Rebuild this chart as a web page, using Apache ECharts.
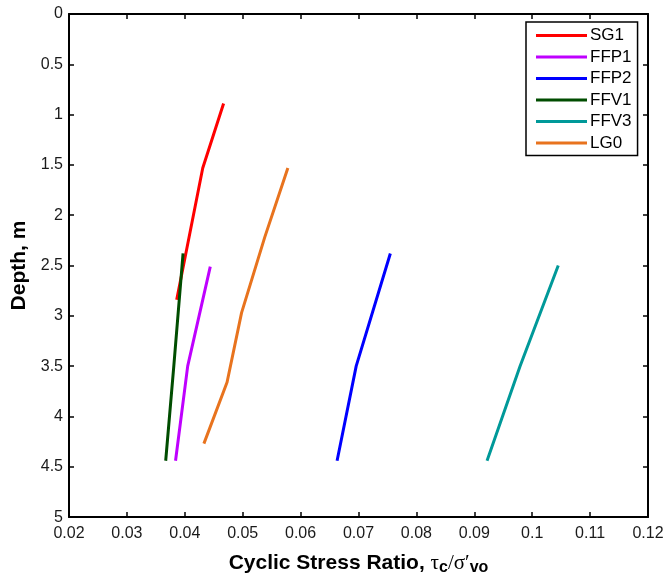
<!DOCTYPE html>
<html>
<head>
<meta charset="utf-8">
<script src="https://cdn.jsdelivr.net/npm/echarts@6/dist/echarts.min.js"></script>
<style>
  html, body { margin: 0; padding: 0; background: #fff; }
  #main { width: 668px; height: 581px; }
</style>
</head>
<body>
<div id="main"></div>
<script>
// series names and colours
var names = ['SG1', 'FFP1', 'FFP2', 'FFV1', 'FFV3', 'LG0'];
var colors = ['#ff0000', '#bf00ff', '#0000ff', '#004d00', '#009999', '#e8731e'];

// [cyclic stress ratio, depth]
var sg1 = [[0.0467, 0.89], [0.0431, 1.53], [0.0386, 2.84]];
var ffp1 = [[0.0444, 2.51], [0.0405, 3.50], [0.0384, 4.44]];
var ffp2 = [[0.0755, 2.38], [0.0696, 3.50], [0.0663, 4.44]];
var ffv1 = [[0.0397, 2.38], [0.0381, 3.50], [0.0367, 4.44]];
var ffv3 = [[0.1045, 2.50], [0.0979, 3.50], [0.0922, 4.44]];
var lg0 = [[0.0578, 1.53], [0.0538, 2.22], [0.0498, 2.97], [0.0473, 3.66], [0.0433, 4.27]];

var xTicks = [0.02, 0.03, 0.04, 0.05, 0.06, 0.07, 0.08, 0.09, 0.1, 0.11, 0.12];
var yTicks = [0, 0.5, 1, 1.5, 2, 2.5, 3, 3.5, 4, 4.5, 5];

var allData = [sg1, ffp1, ffp2, ffv1, ffv3, lg0];

var myChart = echarts.init(document.getElementById('main'));

var fontFam = 'Liberation Sans, Arial, sans-serif';

function xAxisDef(pos, main) {
	return {
		type: 'value',
		position: pos,
		min: xTicks[0],
		max: xTicks[xTicks.length - 1],
		interval: 0.01,
		name: main ? '{b|Cyclic Stress Ratio, }{g|τ}{s|c}{g|/σ′}{s|vo}' : '',
		nameLocation: 'middle',
		nameGap: 30,
		nameTextStyle: {
			rich: {
				b: { fontSize: 21, fontWeight: 'bold', fontFamily: fontFam, color: '#000', lineHeight: 26, verticalAlign: 'middle' },
				g: { fontSize: 21, fontFamily: 'Liberation Serif, serif', color: '#000', lineHeight: 26, verticalAlign: 'middle' },
				s: { fontSize: 16, fontWeight: 'bold', fontFamily: fontFam, color: '#000', lineHeight: 26, verticalAlign: 'bottom', padding: [14, 0, 0, 0] }
			}
		},
		axisLine: { show: true, onZero: false, lineStyle: { color: '#000', width: 2 } },
		axisTick: { show: true, inside: true, length: 5, lineStyle: { color: '#000', width: 1.5 } },
		axisLabel: {
			show: main,
			margin: 8,
			fontSize: 16,
			fontFamily: fontFam,
			color: '#1a1a1a',
			formatter: function (v) { return String(+v.toFixed(2)); }
		},
		splitLine: { show: false }
	};
}

function yAxisDef(pos, main) {
	return {
		type: 'value',
		position: pos,
		inverse: true,
		min: yTicks[0],
		max: yTicks[yTicks.length - 1],
		interval: 0.5,
		name: main ? 'Depth, m' : '',
		nameLocation: 'middle',
		nameGap: 35,
		nameTextStyle: { fontSize: 21, fontWeight: 'bold', fontFamily: fontFam, color: '#000' },
		axisLine: { show: true, onZero: false, lineStyle: { color: '#000', width: 2 } },
		axisTick: { show: true, inside: true, length: 5, lineStyle: { color: '#000', width: 1.5 } },
		axisLabel: {
			show: main,
			margin: 6,
			fontSize: 16,
			fontFamily: fontFam,
			color: '#1a1a1a',
			formatter: function (v) { return String(+v.toFixed(1)); }
		},
		splitLine: { show: false }
	};
}

var series = names.map(function (n, i) {
	return {
		name: n,
		type: 'line',
		showSymbol: false,
		data: allData[i],
		lineStyle: { width: 3, color: colors[i] },
		itemStyle: { color: colors[i] },
		animation: false
	};
});

var option = {
	animation: false,
	grid: { left: 69, right: 20, top: 14, bottom: 58 },
	xAxis: [xAxisDef('bottom', true), xAxisDef('top', false)],
	yAxis: [yAxisDef('left', true), yAxisDef('right', false)],
	legend: {
		orient: 'vertical',
		left: 526,
		top: 22,
		icon: 'rect',
		itemWidth: 51,
		itemHeight: 3,
		itemGap: 4.5,
		itemStyle: { borderWidth: 0 },
		padding: [5, 6, 4, 10],
		borderColor: '#000',
		borderWidth: 1.5,
		backgroundColor: '#fff',
		textStyle: { fontSize: 17, lineHeight: 17, fontFamily: fontFam, color: '#000', padding: [0, 0, 0, -2] },
		data: names
	},
	series: series
};

myChart.setOption(option);
</script>
</body>
</html>
